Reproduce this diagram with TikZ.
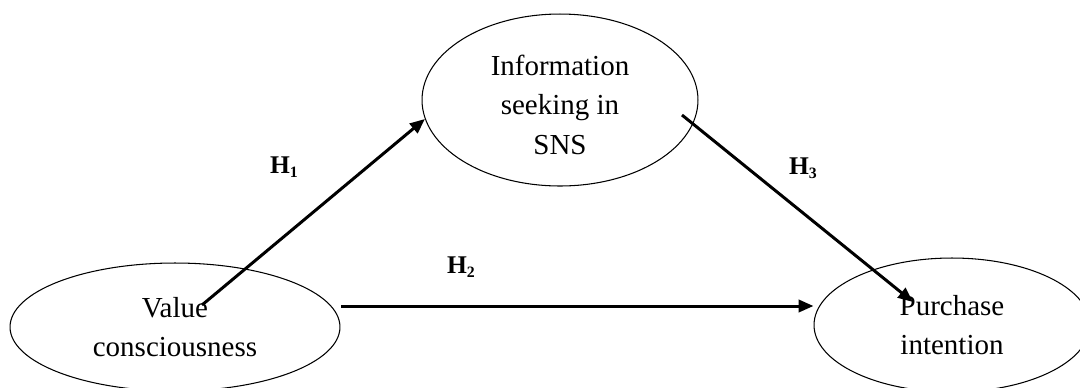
\documentclass[tikz,border=0pt]{standalone}
\usepackage{fontspec}
\setmainfont{Liberation Serif}
\usetikzlibrary{shapes.geometric,arrows.meta}
\tikzset{
	construct/.style = {ellipse, draw, line width=0.6pt, align=center, inner sep=0pt, font=\fontsize{16.5}{22.5}\selectfont},
	link/.style = {line width=1.7pt, -{Triangle[length=8.5pt, width=7pt]}},
	hyplabel/.style = {font=\fontsize{14.5}{16}\selectfont\bfseries}
}
\newcommand{\hypo}[1]{H\raisebox{-0.35ex}{\fontsize{9}{10}\selectfont #1}}
\begin{document}
\begin{tikzpicture} [x = 0.02cm, y = -0.02cm]
	\useasboundingbox (0,0) rectangle (1080,387);
	% the three constructs
	\node [construct, minimum width = 6.6cm, minimum height = 2.56cm] (vc) at (175,327) {Value\\consciousness};
	\node [construct, minimum width = 5.52cm, minimum height = 3.44cm, text height = 62pt] (is) at (560,100) {Information\\seeking in\\SNS};
	\node [construct, minimum width = 5.52cm, minimum height = 2.68cm] (pi) at (952,325) {Purchase\\intention};
	% hypothesised paths
	\coordinate (h1s) at (202,305);
	\coordinate (h2s) at (341,306);
	\coordinate (h3s) at (682,115);
	\coordinate (h3e) at (913,302);
	\draw [link] (h1s) -- (is.188);
	\draw [link] (h2s) -- (h2s -| pi.west);
	\draw [link] (h3s) -- (h3e);
	\node [hyplabel] (h1) at (284,167) {\hypo{1}};
	\node [hyplabel] (h2) at (461,267) {\hypo{2}};
	\node [hyplabel] (h3) at (803,168) {\hypo{3}};
\end{tikzpicture}
\end{document}
